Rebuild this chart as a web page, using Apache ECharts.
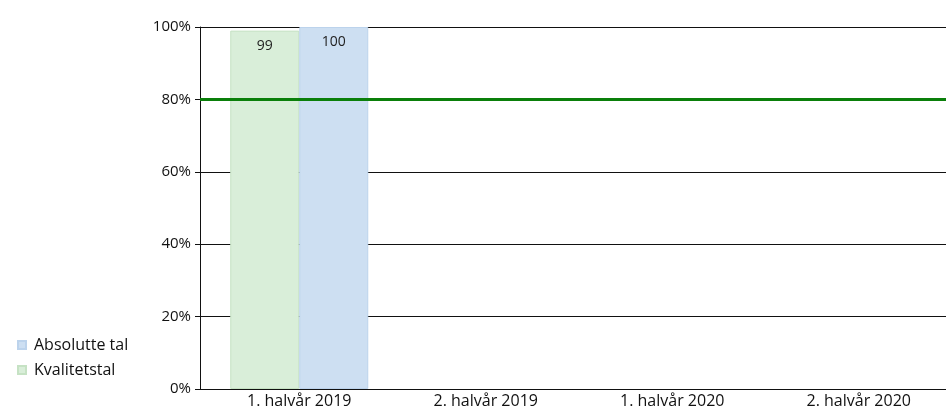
<!DOCTYPE html>
<html>
<head>
<meta charset="utf-8">
<script src="https://cdn.jsdelivr.net/npm/echarts@6/dist/echarts.min.js"></script>
<style>
  html, body { margin: 0; padding: 0; background: #fff; }
  #chart { width: 946px; height: 410px; }
</style>
</head>
<body>
<div id="chart"></div>
<script>
// Half-year periods on the x axis
const categories = ['1. halvår 2019', '2. halvår 2019', '1. halvår 2020', '2. halvår 2020'];
// Share (%) per period
const kvalitetstal = [99, null, null, null];
const absolutteTal = [100, null, null, null];
// Target level
const targetLevel = 80;
const yTicks = [0, 20, 40, 60, 80, 100];

const FONT = '"Open Sans", Lato, sans-serif';
const chart = echarts.init(document.getElementById('chart'), null, { renderer: 'canvas' });

chart.setOption({
  animation: false,
  textStyle: { fontFamily: FONT },
  grid: { left: 200, right: 0, top: 27, bottom: 21, containLabel: false },
  legend: {
    orient: 'vertical',
    left: 12,
    top: 332,
    itemWidth: 8,
    itemHeight: 8,
    itemGap: 9,
    icon: 'rect',
    data: ['Absolutte tal', 'Kvalitetstal'],
    textStyle: { fontFamily: FONT, fontSize: 16, color: '#111', padding: [0, 0, 0, 3] }
  },
  xAxis: {
    type: 'category',
    data: categories,
    axisLine: { onZero: false, lineStyle: { color: '#111', width: 1 } },
    axisTick: { show: false },
    axisLabel: { fontFamily: FONT, fontSize: 16, color: '#111', margin: 4, padding: [0, 0, 0, 12] }
  },
  yAxis: {
    type: 'value',
    min: yTicks[0],
    max: yTicks[yTicks.length - 1],
    interval: 20,
    axisLine: { show: true, onZero: false, lineStyle: { color: '#111', width: 1 } },
    axisTick: { show: true, length: 5, lineStyle: { color: '#111' } },
    axisLabel: { fontFamily: FONT, fontSize: 15, color: '#111', margin: 9, formatter: '{value}%' },
    splitLine: { show: true, lineStyle: { color: '#111', width: 1 } }
  },
  series: [
    {
      // empty slot at the left of each group, so the pair of bars sits a little right of centre
      name: 'spacer',
      type: 'bar',
      data: [],
      barWidth: 12,
      barGap: '0%',
      z: 1,
      markLine: {
        silent: true,
        symbol: 'none',
        label: { show: false },
        lineStyle: { color: '#0a7f0a', width: 3, type: 'solid' },
        data: [{ yAxis: targetLevel }]
      }
    },
    {
      name: 'Kvalitetstal',
      type: 'bar',
      z: 3,
      data: kvalitetstal,
      barWidth: 69,
      barGap: '0%',
      itemStyle: { color: '#d9eed9', borderColor: '#c6e2c4', borderWidth: 1 },
      label: { show: true, position: 'insideTop', distance: 8, fontFamily: FONT, fontSize: 14, color: '#222' }
    },
    {
      name: 'Absolutte tal',
      type: 'bar',
      z: 3,
      data: absolutteTal,
      barWidth: 69,
      barGap: '0%',
      itemStyle: { color: '#cddff2', borderColor: '#bcd3ec', borderWidth: 1 },
      label: { show: true, position: 'insideTop', distance: 8, fontFamily: FONT, fontSize: 14, color: '#222' }
    }
  ]
});
</script>
</body>
</html>
